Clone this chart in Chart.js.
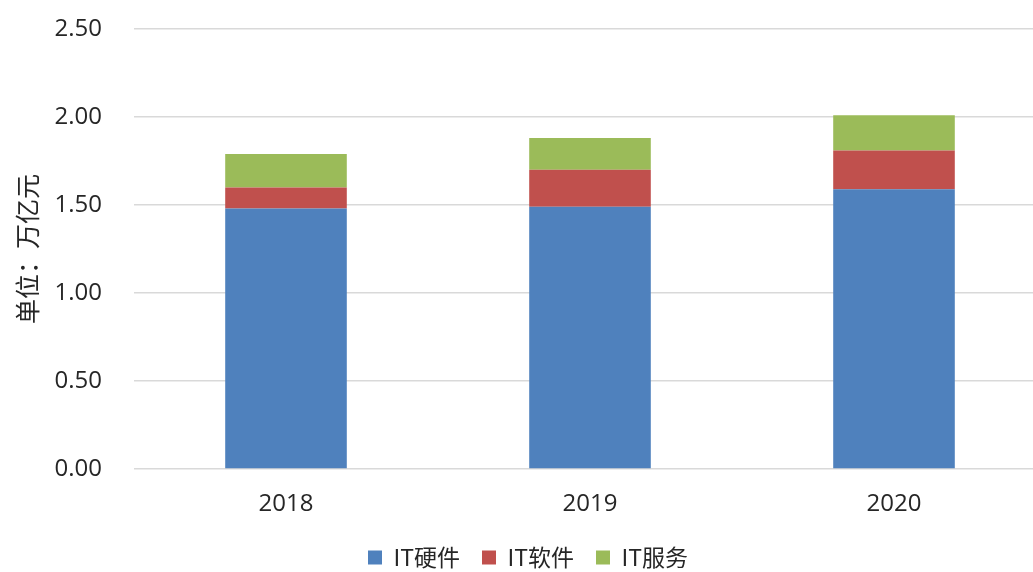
<!DOCTYPE html>
<html>
<head>
<meta charset="utf-8">
<script src="https://cdn.jsdelivr.net/npm/chart.js@4.4.0/dist/chart.umd.min.js"></script>
<style>
html,body{margin:0;padding:0;background:#fff;overflow:hidden;}
#wrap{width:1052px;height:572px;position:relative;}
</style>
</head>
<body>
<div id="wrap"><canvas id="c" width="1052" height="572"></canvas></div>
<script>
const categories = ['2018', '2019', '2020'];
const hardware = [1.48, 1.49, 1.59];
const software = [0.12, 0.21, 0.22];
const services = [0.19, 0.18, 0.20];
const seriesNames = ['IT硬件', 'IT软件', 'IT服务'];
const yTicks = [0, 0.5, 1.0, 1.5, 2.0, 2.5];
const yTitle = '单位：万亿元';

const FONT = "'Open Sans','Noto Sans CJK SC',sans-serif";
const CJK = "'Noto Sans CJK SC','Open Sans',sans-serif";

new Chart(document.getElementById('c'), {
  type: 'bar',
  data: {
    labels: categories,
    datasets: [
      {label: seriesNames[0], data: hardware, backgroundColor: '#4F81BD'},
      {label: seriesNames[1], data: software, backgroundColor: '#C0504D'},
      {label: seriesNames[2], data: services, backgroundColor: '#9BBB59'}
    ]
  },
  options: {
    responsive: false,
    animation: false,
    layout: {padding: {left: 10, right: 6, top: 29, bottom: -7}},
    datasets: {bar: {barPercentage: 1.0, categoryPercentage: 0.4}},
    plugins: {
      legend: {
        position: 'bottom',
        labels: {
          boxWidth: 14, boxHeight: 14, padding: 22,
          color: '#262626',
          font: {family: CJK, size: 23}
        }
      },
      tooltip: {enabled: false}
    },
    scales: {
      x: {
        stacked: true,
        grid: {display: false},
        border: {display: false},
        afterFit: (s) => { s.height = 55; },
        ticks: {color: '#262626', font: {family: FONT, size: 24}, padding: 13}
      },
      y: {
        stacked: true,
        min: 0, max: 2.5,
        afterBuildTicks: (s) => { s.ticks = yTicks.map(v => ({value: v})); },
        afterFit: (s) => { s.width = 124; s.paddingTop = 0; s.paddingBottom = 0; },
        grid: {color: '#d9d9d9', lineWidth: 1.5, drawTicks: false},
        border: {display: false},
        ticks: {
          color: '#262626', font: {family: FONT, size: 24}, padding: 32,
          callback: (v) => Number(v).toFixed(2)
        },
        title: {
          display: true, text: yTitle, color: '#262626',
          font: {family: CJK, size: 25}, padding: {top: 2, bottom: 0}
        }
      }
    }
  }
});
</script>
</body>
</html>
